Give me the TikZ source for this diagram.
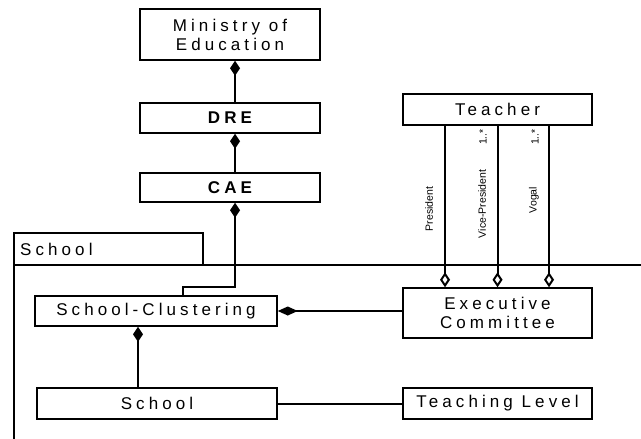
\documentclass[tikz,border=0pt]{standalone}
\usepackage{fontspec}
\setmainfont{Liberation Sans}[LetterSpace=24]
\newfontfamily\rolefont{Liberation Sans}
\usetikzlibrary{arrows.meta}

\begin{document}
\begin{tikzpicture}[
			x=1pt, y=-1pt,
			box/.style={draw, line width=1.5pt, inner sep=0pt, align=center, font=\fontsize{17}{19}\selectfont},
			role/.style={rotate=90, inner sep=0pt, font=\rolefont\fontsize{10.5}{12}\selectfont}, % labels along the teacher lines
			link/.style={line width=2pt},
			comp/.style={link, {Diamond[length=15pt,width=10pt]}-},
			compside/.style={link, {Diamond[length=20pt,width=9pt]}-},
			aggr/.style={link, {Diamond[open,length=15pt,width=10pt]}-}
			]
			\useasboundingbox (0,0) rectangle (641,439);
			% package frame
			\draw[link] (14,439) -- (14,233) -- (203,233) -- (203,265);
			\draw[link] (14,265) -- (641,265);
			\node[anchor=west, inner sep=0pt, font=\fontsize{17}{19}\selectfont] (pkg) at (20,249) {School};
			
			\node[box, minimum width=180pt, minimum height=51pt] (min) at (230,34.5) {Ministry of\\Education};
			\node[box, minimum width=180pt, minimum height=30pt, font=\fontsize{17}{19}\selectfont\bfseries] (dre) at (230,118) {DRE};
			\node[box, minimum width=180pt, minimum height=29pt, font=\fontsize{17}{19}\selectfont\bfseries] (cae) at (230,187.5) {CAE};
			\node[box, minimum width=189pt, minimum height=31pt] (teacher) at (497.5,109.5) {Teacher};
			\node[box, minimum width=242pt, minimum height=30pt] (sc) at (156,311) {School-Clustering};
			\node[box, minimum width=240pt, minimum height=31pt] (school) at (157,403.5) {School};
			\node[box, minimum width=189pt, minimum height=50pt] (ec) at (497.5,313) {Executive\\Committee};
			\node[box, minimum width=189pt, minimum height=31pt] (tl) at (497.5,403.5) {Teaching Level};
			
			\draw[comp] ([xshift=5pt]min.south) -- ([xshift=5pt]dre.north);
			\draw[comp] ([xshift=5pt]dre.south) -- ([xshift=5pt]cae.north);
			\draw[comp] ([xshift=5pt]cae.south) |- ([xshift=27pt,yshift=8pt]sc.north) -- ([xshift=27pt]sc.north);
			\draw[comp] ([xshift=-18pt]sc.south) -- ([xshift=-18pt]sc.south |- school.north);
			\draw[compside] (sc.east) -- (sc.east -| ec.west);
			\draw[link] (school.east) -- (school.east -| tl.west);
			
			\draw[aggr] ([xshift=-52.5pt]ec.north) -- ([xshift=-52.5pt]teacher.south);
			\draw[aggr] (ec.north) -- (teacher.south);
			\draw[aggr] ([xshift=51.5pt]ec.north) -- ([xshift=51.5pt]teacher.south);
			
			\node[role] (pres) at (429,209) {President};
			\node[role] (vice) at (482,204) {Vice-President};
			\node[role] (vogal) at (534,200) {Vogal};
			\node[role] (mvice) at (483,137) {1..*};
			\node[role] (mvogal) at (535,137) {1..*};
		\end{tikzpicture}
\end{document}
